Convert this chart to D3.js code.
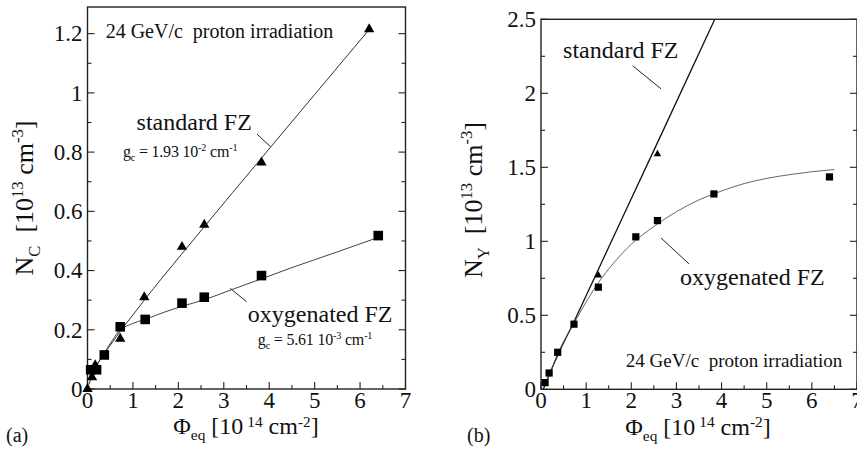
<!DOCTYPE html>
<html>
<head>
<meta charset="utf-8">
<script src="https://cdn.jsdelivr.net/npm/d3@7"></script>
<style>
  html, body { margin: 0; padding: 0; background: #fff; }
  svg { display: block; }
</style>
</head>
<body>
<svg id="chart" width="857" height="452"></svg>
<script>
// ---- Panel (a): N_C versus fluence ----
const fluenceStdA = [0.0, 0.1, 0.17, 0.72, 1.25, 2.08, 2.57, 3.83, 6.2];
const ncStd       = [0.0, 0.04, 0.08, 0.17, 0.31, 0.48, 0.555, 0.765, 1.215];
const fluenceOxyA = [0.07, 0.2, 0.37, 0.72, 1.27, 2.08, 2.57, 3.83, 6.4];
const ncOxy       = [0.065, 0.065, 0.115, 0.21, 0.235, 0.29, 0.31, 0.383, 0.518];
// fitted curves (sampled)
const fitStdAx = [0.03, 0.1, 0.2, 0.37, 0.55, 0.72, 1.0, 1.25, 2.07, 2.57, 3.83, 6.18];
const fitStdAy = [0.015, 0.045, 0.078, 0.12, 0.158, 0.195, 0.25, 0.3, 0.455, 0.548, 0.78, 1.21];
const fitOxyAx = [0.05, 0.2, 0.37, 0.55, 0.72, 0.9, 1.1, 1.3, 1.7, 2.1, 2.6, 3.2, 3.83, 4.5, 5.5, 6.4];
const fitOxyAy = [0.045, 0.08, 0.122, 0.165, 0.2, 0.215, 0.227, 0.237, 0.26, 0.28, 0.303, 0.337, 0.372, 0.41, 0.463, 0.512];

// ---- Panel (b): N_Y versus fluence ----
const fluenceStdB = [1.27, 2.58];
const nyStd       = [0.77, 1.59];
const fluenceOxyB = [0.09, 0.18, 0.37, 0.73, 1.27, 2.1, 2.58, 3.83, 6.39];
const nyOxy       = [0.045, 0.11, 0.25, 0.44, 0.69, 1.03, 1.14, 1.32, 1.435];
const fitStdBx = [0.05, 0.37, 0.72, 1.27, 2.57, 3.85];
const fitStdBy = [0.0, 0.23, 0.45, 0.81, 1.66, 2.5];
const fitOxyBx = [0.08, 0.2, 0.37, 0.72, 1.0, 1.27, 1.6, 2.0, 2.5, 3.0, 3.5, 4.0, 4.5, 5.0, 5.5, 6.0, 6.5];
const fitOxyBy = [0.03, 0.11, 0.24, 0.44, 0.59, 0.72, 0.85, 0.98, 1.1, 1.2, 1.28, 1.34, 1.39, 1.425, 1.45, 1.47, 1.485];

// ---- ticks ----
const xTicks = [0, 1, 2, 3, 4, 5, 6, 7];
const xMinor = [0.5, 1.5, 2.5, 3.5, 4.5, 5.5, 6.5];
const yTicksA = [0, 0.2, 0.4, 0.6, 0.8, 1, 1.2];
const yTickLabelsA = ["0", "0.2", "0.4", "0.6", "0.8", "1", "1.2"];
const yMinorA = [0.1, 0.3, 0.5, 0.7, 0.9, 1.1];
const yTicksB = [0, 0.5, 1, 1.5, 2, 2.5];
const yTickLabelsB = ["0", "0.5", "1", "1.5", "2", "2.5"];
const yMinorB = [0.25, 0.75, 1.25, 1.75, 2.25];

const FONT = "Liberation Serif";
const svg = d3.select("#chart");

function label(g, x, y, str, size) {
  return g.append("text").attr("x", x).attr("y", y).attr("font-size", size)
    .attr("font-family", FONT).attr("fill", "#111").style("white-space", "pre").text(str);
}

// rich text with sub/superscripts: parts = [[text, kind], ...]
function rich(g, x, y, parts, size, opt = {}) {
  const supShift = opt.sup ?? 0.38, subShift = opt.sub ?? 0.25;
  const t = g.append("text").attr("x", x).attr("y", y).attr("font-size", size)
    .attr("font-family", FONT).attr("fill", "#111").style("white-space", "pre");
  if (opt.rotate) t.attr("transform", `rotate(${opt.rotate},${x},${y})`);
  if (opt.anchor) t.attr("text-anchor", opt.anchor);
  let shift = 0;
  parts.forEach(([txt, kind]) => {
    const target = kind === "sub" ? size * subShift : kind === "sup" ? -size * supShift : 0;
    t.append("tspan").attr("dy", target - shift)
      .attr("font-size", kind ? size * 0.64 : size).text(txt);
    shift = target;
  });
  return t;
}

function panel(cfg) {
  const g = svg.append("g");
  const x = d3.scaleLinear().domain([0, 7]).range(cfg.xr);
  const y = d3.scaleLinear().domain(cfg.yd).range(cfg.yr);
  const [x0, x1] = cfg.xr, [y0, y1] = cfg.yr;

  // inward major and minor ticks
  const tk = g.append("g").attr("stroke", "#222").attr("stroke-width", 1.1);
  cfg.yTicks.forEach(v => {
    tk.append("line").attr("x1", x0).attr("x2", x0 + 7).attr("y1", y(v)).attr("y2", y(v));
    tk.append("line").attr("x1", x1).attr("x2", x1 - 7).attr("y1", y(v)).attr("y2", y(v));
  });
  cfg.yMinor.forEach(v => {
    tk.append("line").attr("x1", x0).attr("x2", x0 + 4).attr("y1", y(v)).attr("y2", y(v));
    tk.append("line").attr("x1", x1).attr("x2", x1 - 4).attr("y1", y(v)).attr("y2", y(v));
  });
  xTicks.forEach(v => tk.append("line").attr("x1", x(v)).attr("x2", x(v)).attr("y1", y0).attr("y2", y0 - 7));
  xMinor.forEach(v => tk.append("line").attr("x1", x(v)).attr("x2", x(v)).attr("y1", y0).attr("y2", y0 - 4));

  // frame
  g.append("rect").attr("x", x0).attr("y", y1).attr("width", x1 - x0).attr("height", y0 - y1)
    .attr("fill", "none").attr("stroke", "#222").attr("stroke-width", 1.4);

  // tick labels
  cfg.yTicks.forEach((v, i) => label(g, x0 - 5, y(v), cfg.yLabels[i], 23)
    .attr("dy", "0.34em").attr("text-anchor", "end"));
  xTicks.forEach(v => label(g, x(v), y0 + 19 + cfg.xLabOff, String(v), 23).attr("text-anchor", "middle"));

  // fit curves
  const line = d3.line().x(d => x(d[0])).y(d => y(d[1])).curve(d3.curveMonotoneX);
  cfg.fits.forEach(f => g.append("path").datum(d3.zip(f.x, f.y)).attr("d", line)
    .attr("fill", "none").attr("stroke", f.c).attr("stroke-width", f.w));

  // markers
  const tri = d3.symbol(d3.symbolTriangle, cfg.triSize);
  const sq = d3.symbol(d3.symbolSquare, cfg.sqSize);
  d3.zip(cfg.std.x, cfg.std.y).forEach(d => g.append("path").attr("d", tri)
    .attr("transform", `translate(${x(d[0])},${y(d[1])})`).attr("fill", "#000"));
  d3.zip(cfg.oxy.x, cfg.oxy.y).forEach(d => g.append("path").attr("d", sq)
    .attr("transform", `translate(${x(d[0])},${y(d[1])})`).attr("fill", "#000"));

  return { g, x, y };
}

function leader(p, a, b) {
  p.g.append("line").attr("x1", p.x(a[0])).attr("y1", p.y(a[1])).attr("x2", p.x(b[0])).attr("y2", p.y(b[1]))
    .attr("stroke", "#222").attr("stroke-width", 1);
}

// ---------- (a) ----------
const A = panel({
  xr: [87.5, 405.5], yd: [0, 1.29], yr: [389, 7],
  yTicks: yTicksA, yLabels: yTickLabelsA, yMinor: yMinorA, xLabOff: 0,
  fits: [{ x: fitStdAx, y: fitStdAy, c: "#333", w: 1 }, { x: fitOxyAx, y: fitOxyAy, c: "#444", w: 1 }],
  std: { x: fluenceStdA, y: ncStd }, oxy: { x: fluenceOxyA, y: ncOxy },
  triSize: 46, sqSize: 92
});
label(A.g, A.x(0.4), A.y(1.185), "24 GeV/c  proton irradiation", 20);
label(A.g, A.x(1.08), A.y(0.875), "standard FZ", 24);
rich(A.g, A.x(0.78), A.y(0.784), [["g"], ["c", "sub"], [" = 1.93 10"], ["-2", "sup"], [" cm"], ["-1", "sup"]], 16)
  .attr("letter-spacing", -0.2);
leader(A, [3.73, 0.861], [4.03, 0.818]);
label(A.g, A.x(3.53), A.y(0.227), "oxygenated FZ", 24);
rich(A.g, A.x(3.75), A.y(0.149), [["g"], ["c", "sub"], [" = 5.61 10"], ["-3", "sup"], [" cm"], ["-1", "sup"]], 16)
  .attr("letter-spacing", -0.2);
leader(A, [3.14, 0.34], [3.5, 0.295]);
rich(svg, 246, 434, [["Φ"], ["eq", "sub"], [" [10"], [" 14", "sup"], [" cm"], ["-2", "sup"], ["]"]], 24,
  { anchor: "middle", sup: 0.3 });
rich(svg, 33, 198, [["N"], ["C", "sub"], ["  [10"], ["13", "sup"], [" cm"], ["-3", "sup"], ["]"]], 26,
  { anchor: "middle", rotate: -90 });
label(svg, 6, 442, "(a)", 20);

// ---------- (b) ----------
const B = panel({
  xr: [541, 857], yd: [0, 2.5], yr: [389.3, 19.3],
  yTicks: yTicksB, yLabels: yTickLabelsB, yMinor: yMinorB, xLabOff: -0.5,
  fits: [{ x: fitStdBx, y: fitStdBy, c: "#111", w: 1.3 }, { x: fitOxyBx, y: fitOxyBy, c: "#555", w: 0.9 }],
  std: { x: fluenceStdB, y: nyStd }, oxy: { x: fluenceOxyB, y: nyOxy },
  triSize: 24, sqSize: 52
});
label(B.g, B.x(0.49), B.y(2.238), "standard FZ", 24);
leader(B, [2.03, 2.186], [2.66, 2.03]);
label(B.g, B.x(3.08), B.y(0.705), "oxygenated FZ", 24);
leader(B, [2.66, 1.022], [3.28, 0.847]);
label(B.g, B.x(1.88), B.y(0.151), "24 GeV/c  proton irradiation", 19);
rich(svg, 698, 434.5, [["Φ"], ["eq", "sub"], [" [10"], [" 14", "sup"], [" cm"], ["-2", "sup"], ["]"]], 24,
  { anchor: "middle", sup: 0.3 });
rich(svg, 482, 200, [["N"], ["Y", "sub"], ["  [10"], ["13", "sup"], [" cm"], ["-3", "sup"], ["]"]], 26,
  { anchor: "middle", rotate: -90 });
label(svg, 467, 442, "(b)", 20);
</script>
</body>
</html>
